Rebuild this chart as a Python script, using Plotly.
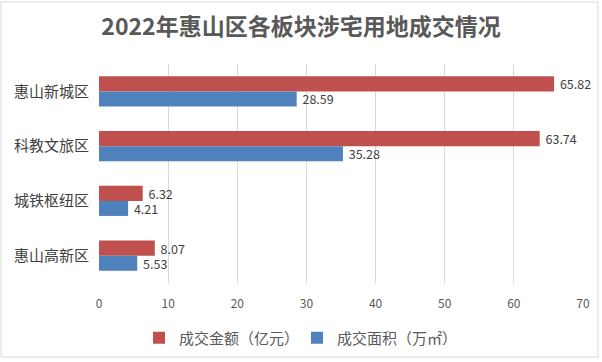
import plotly.graph_objects as go

categories = ["惠山新城区", "科教文旅区", "城铁枢纽区", "惠山高新区"]
amount = [65.82, 63.74, 6.32, 8.07]
area = [28.59, 35.28, 4.21, 5.53]
series_names = ["成交金额（亿元）", "成交面积（万㎡）"]
x_ticks = [0, 10, 20, 30, 40, 50, 60, 70]

FONT = "Noto Sans CJK SC"

fig = go.Figure()
fig.add_trace(go.Bar(
    y=categories, x=amount, orientation="h", name=series_names[0],
    marker=dict(color="#C0504D", line=dict(width=0)),
    texttemplate=" %{x:.2f}", textposition="outside",
    constraintext="none", hoverinfo="skip",
    textfont=dict(family=FONT, size=12.5, color="#404040"), cliponaxis=False,
))
fig.add_trace(go.Bar(
    y=categories, x=area, orientation="h", name=series_names[1],
    marker=dict(color="#4F81BD", line=dict(width=0)),
    texttemplate=" %{x:.2f}", textposition="outside",
    constraintext="none", hoverinfo="skip",
    textfont=dict(family=FONT, size=12.5, color="#404040"), cliponaxis=False,
))

L, R, T, B = 99, 19, 64, 79
W, H = 602, 362
pw, ph = W - L - R, H - T - B

fig.update_layout(
    width=W, height=H,
    margin=dict(l=L, r=R, t=T, b=B, autoexpand=False),
    paper_bgcolor="white", plot_bgcolor="white",
    barmode="group", bargap=0.45, bargroupgap=0,
    font=dict(family=FONT, color="#595959"),
    title=dict(text="<b>2022年惠山区各板块涉宅用地成交情况</b>",
               x=0.5, xanchor="center", y=1 - 27 / H, yanchor="middle",
               font=dict(family=FONT, size=23, color="#595959")),
    xaxis=dict(range=[0, 70], tickvals=x_ticks, showgrid=True,
               gridcolor="#D9D9D9", gridwidth=1, zeroline=False,
               showline=False, ticks="", ticklabelstandoff=12,
               automargin=False,
               tickfont=dict(family=FONT, size=12, color="#595959")),
    yaxis=dict(autorange="reversed", showline=False, ticks="",
               ticklabelstandoff=9, automargin=False,
               tickfont=dict(family=FONT, size=15, color="#404040")),
    legend=dict(orientation="h", x=(297 - L) / pw, xanchor="center",
                y=-(338 - (T + ph)) / ph, yanchor="middle",
                font=dict(family=FONT, size=15, color="#595959"),
                itemwidth=30, entrywidth=113, entrywidthmode="pixels",
                traceorder="normal"),
    showlegend=True,
)

# light outer frame of the chart
fig.add_shape(type="rect", xref="paper", yref="paper",
              x0=-(L - 1) / pw, x1=1 + (R - 4) / pw,
              y0=-(B - 5) / ph, y1=1 + (T - 2) / ph,
              line=dict(color="#D9D9D9", width=1), fillcolor="rgba(0,0,0,0)")

fig.write_html("out.html", config={"displayModeBar": False},
               post_script="document.body.style.margin='0';")
